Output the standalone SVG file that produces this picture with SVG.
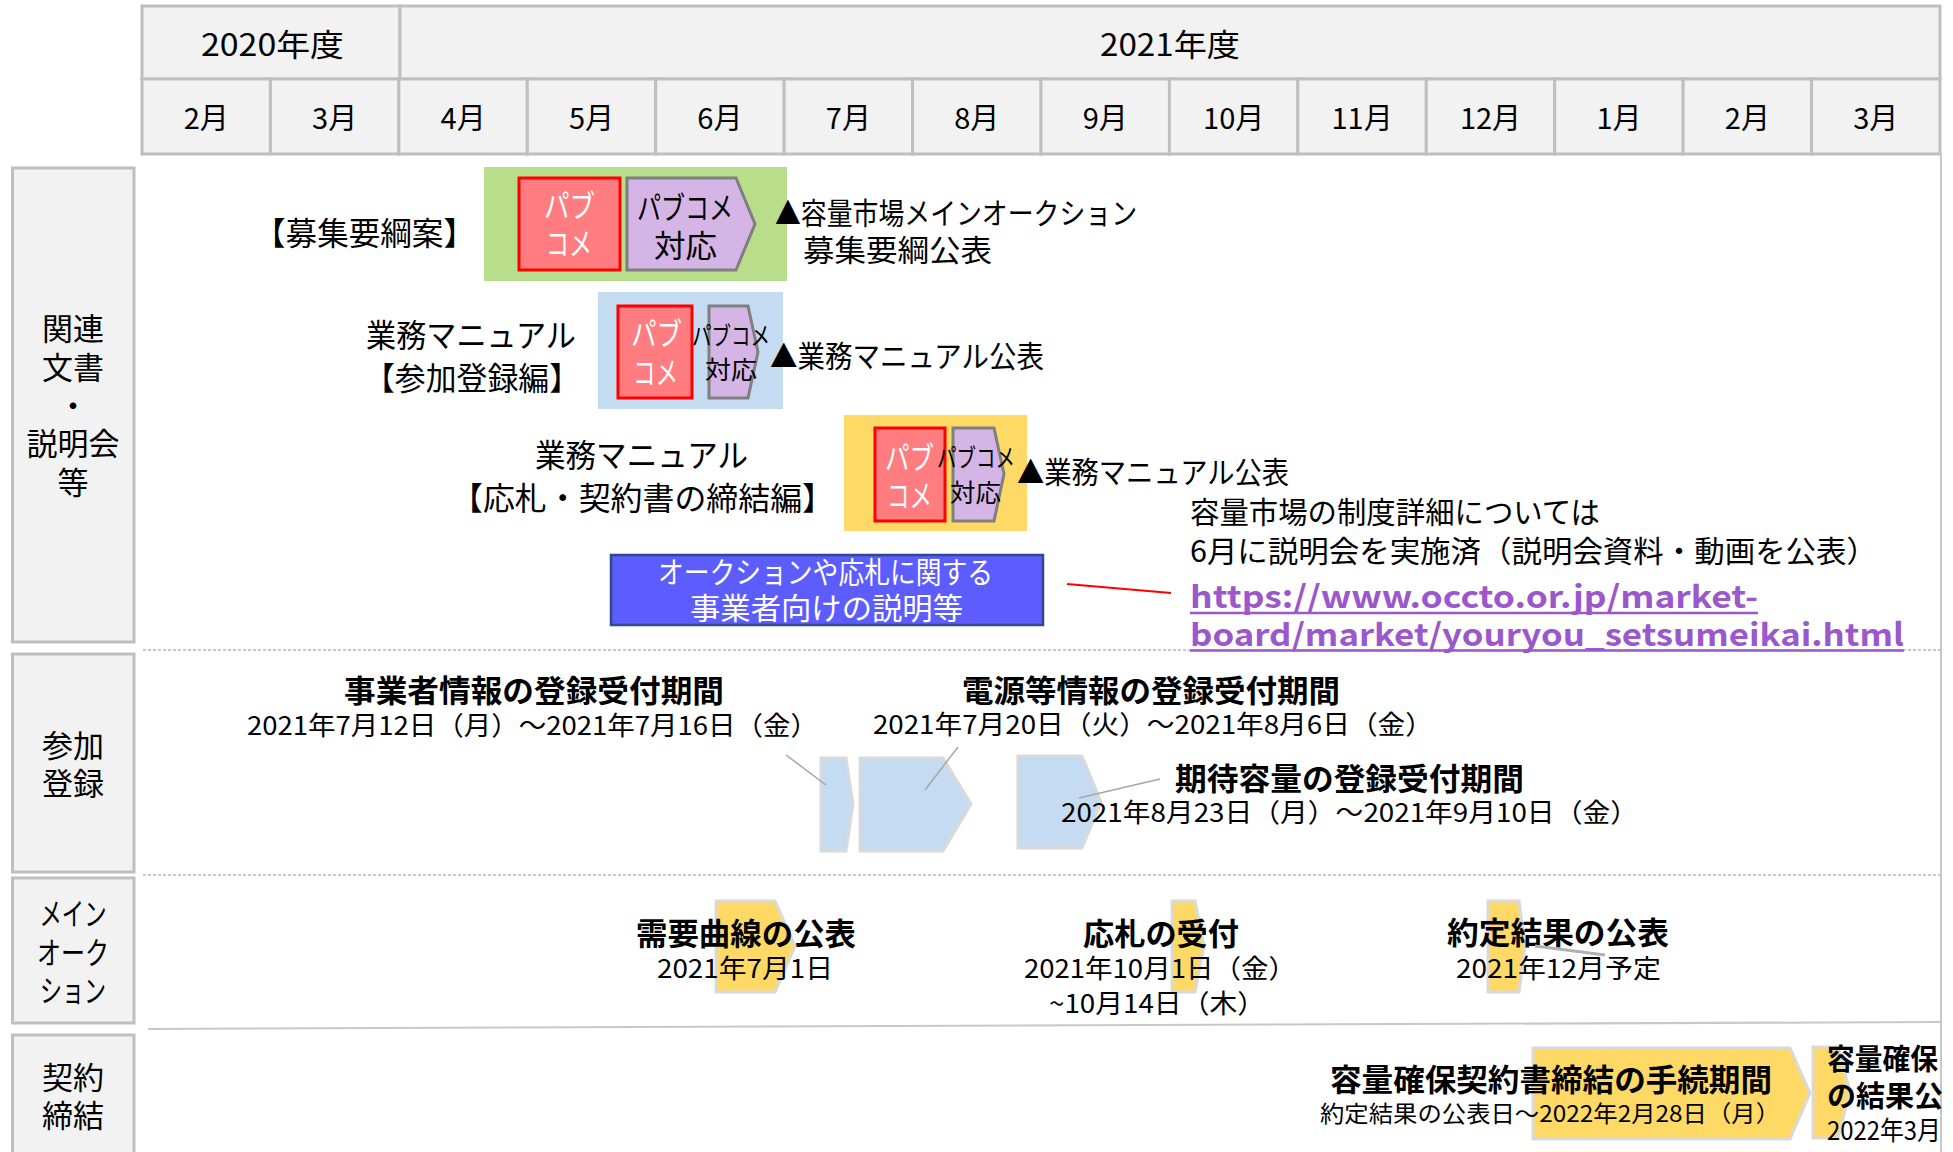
<svg xmlns="http://www.w3.org/2000/svg" width="1953" height="1152" viewBox="0 0 1953 1152">
<style>
text{font-family:"Noto Sans CJK JP","Noto Sans",sans-serif;fill:#000}
.b{font-weight:bold}
.w{fill:#fff}
.cell{fill:#f2f2f2;stroke:#bfbfbf;stroke-width:3}
.hd{font-size:29px;text-anchor:middle}
.lab{font-size:31px;text-anchor:middle}
.red{fill:#ff7c80;stroke:#ff0000;stroke-width:3}
.pur{fill:#d5b4e6;stroke:#7f7f7f;stroke-width:3}
.bl{fill:#c5dbf1;stroke:#d9d9d9;stroke-width:3}
.ye{fill:#ffd966;stroke:#d9d9d9;stroke-width:3}
.sep{stroke:#c8c8c8;stroke-width:2;stroke-dasharray:3 2;fill:none}
.lead{stroke:#a6a6a6;stroke-width:1.5;fill:none}
.t30{font-size:30px}
.t32{font-size:32px}
.t31{font-size:31px}
.t26{font-size:26px}
.t25{font-size:25px}
.url{font-size:31px;font-weight:bold;fill:#9b57cc}
</style>
<defs>
<clipPath id="edge"><rect x="0" y="0" width="1942" height="1152"/></clipPath>
</defs>
<rect width="1953" height="1152" fill="#fff"/>

<g id="header">
<rect class="cell" x="142" y="6" width="258" height="73"/>
<rect class="cell" x="400" y="6" width="1540" height="73"/>
<text class="t31" x="201" y="56" textLength="143" lengthAdjust="spacingAndGlyphs">2020年度</text>
<text class="t31" x="1100" y="56" textLength="140" lengthAdjust="spacingAndGlyphs">2021年度</text>
<rect class="cell" x="142" y="79" width="128.43" height="75"/>
<rect class="cell" x="270.43" y="79" width="128.43" height="75"/>
<rect class="cell" x="398.86" y="79" width="128.43" height="75"/>
<rect class="cell" x="527.29" y="79" width="128.43" height="75"/>
<rect class="cell" x="655.71" y="79" width="128.43" height="75"/>
<rect class="cell" x="784.14" y="79" width="128.43" height="75"/>
<rect class="cell" x="912.57" y="79" width="128.43" height="75"/>
<rect class="cell" x="1041" y="79" width="128.43" height="75"/>
<rect class="cell" x="1169.43" y="79" width="128.43" height="75"/>
<rect class="cell" x="1297.86" y="79" width="128.43" height="75"/>
<rect class="cell" x="1426.29" y="79" width="128.43" height="75"/>
<rect class="cell" x="1554.71" y="79" width="128.43" height="75"/>
<rect class="cell" x="1683.14" y="79" width="128.43" height="75"/>
<rect class="cell" x="1811.57" y="79" width="128.43" height="75"/>
<text class="hd" x="206.2" y="129">2月</text>
<text class="hd" x="334.6" y="129">3月</text>
<text class="hd" x="463.1" y="129">4月</text>
<text class="hd" x="591.5" y="129">5月</text>
<text class="hd" x="719.9" y="129">6月</text>
<text class="hd" x="848.4" y="129">7月</text>
<text class="hd" x="976.8" y="129">8月</text>
<text class="hd" x="1105.2" y="129">9月</text>
<text class="hd" x="1233.7" y="129">10月</text>
<text class="hd" x="1362.1" y="129">11月</text>
<text class="hd" x="1490.5" y="129">12月</text>
<text class="hd" x="1619" y="129">1月</text>
<text class="hd" x="1747.4" y="129">2月</text>
<text class="hd" x="1875.8" y="129">3月</text>
</g>

<g id="row-labels">
<rect class="cell" x="12.5" y="168" width="121.5" height="474"/>
<text class="lab" x="73" y="339.5">関連</text>
<text class="lab" x="73" y="378.5">文書</text>
<text class="lab" x="73" y="416.5">・</text>
<text class="lab" x="73" y="454.5">説明会</text>
<text class="lab" x="73" y="493.5">等</text>
<rect class="cell" x="12.5" y="654" width="121.5" height="218"/>
<text class="lab" x="73" y="756.5">参加</text>
<text class="lab" x="73" y="794.5">登録</text>
<rect class="cell" x="12.5" y="878" width="121.5" height="145"/>
<text class="lab" x="73" y="924.5" textLength="67" lengthAdjust="spacingAndGlyphs">メイン</text>
<text class="lab" x="73" y="963.5" textLength="72" lengthAdjust="spacingAndGlyphs">オーク</text>
<text class="lab" x="73" y="1001.5" textLength="66" lengthAdjust="spacingAndGlyphs">ション</text>
<rect class="cell" x="12.5" y="1035" width="121.5" height="140"/>
<text class="lab" x="73" y="1088.5">契約</text>
<text class="lab" x="73" y="1126.5">締結</text>
</g>

<g id="grid-lines">
<line class="sep" x1="143" y1="650" x2="1940" y2="650"/>
<line class="sep" x1="143" y1="875" x2="1940" y2="875"/>
<line x1="148" y1="1029" x2="1940" y2="1022" stroke="#c8c8c8" stroke-width="2"/>
<line x1="1941" y1="154" x2="1941" y2="1152" stroke="#c8c8c8" stroke-width="2"/>
</g>

<g id="doc-boshu">
<text class="t32" x="254" y="245" textLength="221" lengthAdjust="spacingAndGlyphs">【募集要綱案】</text>
<rect x="484" y="167" width="303" height="114" fill="#b8de8b"/>
<rect class="red" x="519" y="178" width="101" height="92"/>
<text class="t31 w" x="544" y="216.5" textLength="51" lengthAdjust="spacingAndGlyphs">パブ</text>
<text class="t31 w" x="546" y="254.5" textLength="46" lengthAdjust="spacingAndGlyphs">コメ</text>
<polygon class="pur" points="627,178 736,178 755,224 736,270 627,270"/>
<text class="t31" x="637" y="218.5" textLength="96" lengthAdjust="spacingAndGlyphs">パブコメ</text>
<text class="t31" x="654" y="256.5" textLength="63" lengthAdjust="spacingAndGlyphs">対応</text>
<text class="t30" x="775" y="223.5" textLength="362" lengthAdjust="spacingAndGlyphs">▲容量市場メインオークション</text>
<text class="t30" x="803" y="260.5" textLength="189" lengthAdjust="spacingAndGlyphs">募集要綱公表</text>
</g>

<g id="doc-sanka">
<text class="t32" x="366" y="347" textLength="210" lengthAdjust="spacingAndGlyphs">業務マニュアル</text>
<text class="t32" x="364" y="390" textLength="216" lengthAdjust="spacingAndGlyphs">【参加登録編】</text>
<rect x="598" y="292" width="185" height="117" fill="#c5dbf1"/>
<rect class="red" x="618" y="306" width="74" height="92"/>
<text class="t31 w" x="631" y="344.5" textLength="51" lengthAdjust="spacingAndGlyphs">パブ</text>
<text class="t31 w" x="633" y="383.5" textLength="45" lengthAdjust="spacingAndGlyphs">コメ</text>
<polygon class="pur" points="709,306 748,306 758,352 748,398 709,398"/>
<text class="t25" x="692" y="344.5" textLength="78" lengthAdjust="spacingAndGlyphs">パブコメ</text>
<text class="t25" x="705" y="378.5" textLength="52" lengthAdjust="spacingAndGlyphs">対応</text>
<text class="t30" x="770" y="367" textLength="274" lengthAdjust="spacingAndGlyphs">▲業務マニュアル公表</text>
</g>

<g id="doc-osatsu">
<text class="t32" x="535" y="467" textLength="213" lengthAdjust="spacingAndGlyphs">業務マニュアル</text>
<text class="t32" x="451" y="510" textLength="383" lengthAdjust="spacingAndGlyphs">【応札・契約書の締結編】</text>
<rect x="844" y="415" width="183" height="116" fill="#ffd966"/>
<rect class="red" x="875" y="428" width="70" height="93"/>
<text class="t31 w" x="885" y="468.5" textLength="49" lengthAdjust="spacingAndGlyphs">パブ</text>
<text class="t31 w" x="887" y="506.5" textLength="45" lengthAdjust="spacingAndGlyphs">コメ</text>
<polygon class="pur" points="953,428 994,428 1004,474 994,521 953,521"/>
<text class="t25" x="937" y="466.5" textLength="78" lengthAdjust="spacingAndGlyphs">パブコメ</text>
<text class="t25" x="950" y="501.5" textLength="51" lengthAdjust="spacingAndGlyphs">対応</text>
<text class="t30" x="1017" y="483" textLength="272" lengthAdjust="spacingAndGlyphs">▲業務マニュアル公表</text>
</g>

<g id="setsumei">
<rect x="611" y="555" width="432" height="70" fill="#5c5cff" stroke="#2e4a8c" stroke-width="2.5"/>
<text class="t30 w" x="658" y="583" textLength="335" lengthAdjust="spacingAndGlyphs">オークションや応札に関する</text>
<text class="t30 w" x="690" y="619" textLength="273" lengthAdjust="spacingAndGlyphs">事業者向けの説明等</text>
</g>

<g id="setsumei-note">
<text class="t30" x="1190" y="523" textLength="410" lengthAdjust="spacingAndGlyphs">容量市場の制度詳細については</text>
<text class="t30" x="1190" y="562" textLength="687" lengthAdjust="spacingAndGlyphs">6月に説明会を実施済（説明会資料・動画を公表）</text>
<text class="url" x="1190" y="608" textLength="568" lengthAdjust="spacingAndGlyphs">https://www.occto.or.jp/market-</text>
<line x1="1190" y1="613" x2="1758" y2="613" stroke="#9b57cc" stroke-width="2.5"/>
<text class="url" x="1190" y="646" textLength="714" lengthAdjust="spacingAndGlyphs">board/market/youryou_setsumeikai.html</text>
<line x1="1190" y1="650.5" x2="1904" y2="650.5" stroke="#9b57cc" stroke-width="2.5"/>
</g>

<g id="sanka-jigyosha">
<polygon class="bl" points="821,758 846,758 853,804 846,851 821,851"/>
<text class="t31 b" x="344" y="702" textLength="380" lengthAdjust="spacingAndGlyphs">事業者情報の登録受付期間</text>
<text class="t26" x="247" y="734.5" textLength="571" lengthAdjust="spacingAndGlyphs">2021年7月12日（月）～2021年7月16日（金）</text>
</g>

<g id="sanka-dengen">
<polygon class="bl" points="860,758 943,758 971,804 943,851 860,851"/>
<text class="t31 b" x="962" y="702" textLength="378" lengthAdjust="spacingAndGlyphs">電源等情報の登録受付期間</text>
<text class="t26" x="873" y="734" textLength="560" lengthAdjust="spacingAndGlyphs">2021年7月20日（火）～2021年8月6日（金）</text>
</g>

<g id="sanka-kitai">
<polygon class="bl" points="1018,756 1082,756 1101,802 1082,848 1018,848"/>
<text class="t31 b" x="1175" y="789.5" textLength="349" lengthAdjust="spacingAndGlyphs">期待容量の登録受付期間</text>
<text class="t26" x="1061" y="822" textLength="577" lengthAdjust="spacingAndGlyphs">2021年8月23日（月）～2021年9月10日（金）</text>
</g>

<g id="main-juyo">
<polygon class="ye" points="716,901 775,901 795,946 775,992 716,992"/>
<text class="t31 b" x="636" y="944.5" textLength="220" lengthAdjust="spacingAndGlyphs">需要曲線の公表</text>
<text class="t26" x="657" y="977.6" textLength="176" lengthAdjust="spacingAndGlyphs">2021年7月1日</text>
</g>

<g id="main-osatsu">
<polygon class="ye" points="1172,901 1195,901 1204,946 1195,992 1172,992"/>
<text class="t31 b" x="1083" y="944.5" textLength="156" lengthAdjust="spacingAndGlyphs">応札の受付</text>
<text class="t26" x="1024" y="977.6" textLength="272" lengthAdjust="spacingAndGlyphs">2021年10月1日（金）</text>
<text class="t26" x="1049" y="1013" textLength="216" lengthAdjust="spacingAndGlyphs">~10月14日（木）</text>
</g>

<g id="main-yakujo">
<polygon class="ye" points="1488,901 1519,901 1525,946 1519,992 1488,992"/>
<text class="t31 b" x="1447" y="944" textLength="222" lengthAdjust="spacingAndGlyphs">約定結果の公表</text>
<text class="t26" x="1456" y="977.6" textLength="205" lengthAdjust="spacingAndGlyphs">2021年12月予定</text>
</g>

<g id="keiyaku-tetsuzuki">
<polygon class="ye" points="1533,1048 1790,1048 1810,1093 1790,1139 1533,1139"/>
<text class="t31 b" x="1330" y="1090.5" textLength="442" lengthAdjust="spacingAndGlyphs">容量確保契約書締結の手続期間</text>
<text x="1320" y="1121.5" font-size="23" textLength="460" lengthAdjust="spacingAndGlyphs">約定結果の公表日～2022年2月28日（月）</text>
</g>

<g id="keiyaku-kekka" clip-path="url(#edge)">
<polygon class="ye" points="1813,1047 1838,1047 1850,1092 1838,1138 1813,1138"/>
<text class="b" x="1827" y="1070" font-size="29" textLength="111" lengthAdjust="spacingAndGlyphs">容量確保</text>
<text class="b" x="1827" y="1107" font-size="29">の結果公表</text>
<text class="t26" x="1827" y="1140" textLength="114" lengthAdjust="spacingAndGlyphs">2022年3月</text>
</g>

<g id="connectors">
<line x1="1067" y1="584" x2="1171" y2="593" stroke="#ff0000" stroke-width="2"/>
<line class="lead" x1="786" y1="755" x2="826" y2="785"/>
<line class="lead" x1="958" y1="747" x2="925" y2="790"/>
<line class="lead" x1="1160" y1="779" x2="1079" y2="798"/>
<line x1="1535" y1="946" x2="1605" y2="955" stroke="#b0b0b0" stroke-width="3"/>
</g>
</svg>
